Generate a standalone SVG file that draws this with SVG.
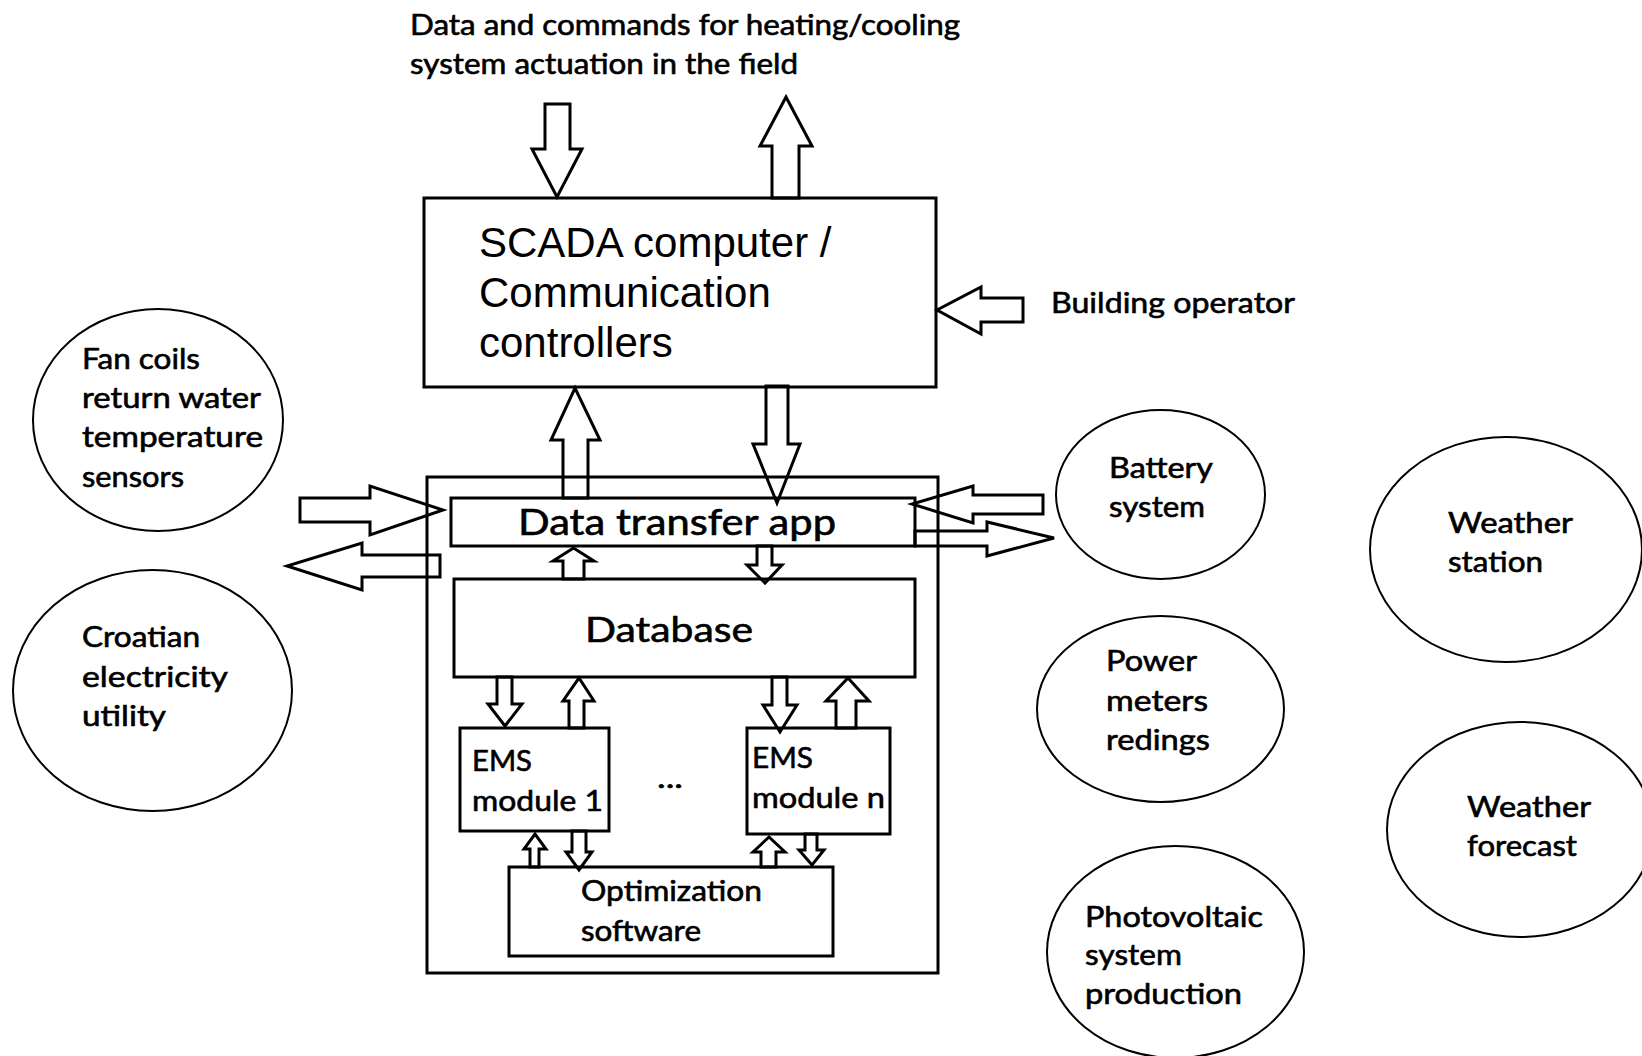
<svg xmlns="http://www.w3.org/2000/svg" width="1642" height="1056" viewBox="0 0 1642 1056">
<style>
.box{fill:none;stroke:#000;stroke-width:3}
.ell{fill:none;stroke:#000;stroke-width:2}
.arr{fill:none;stroke:#000;stroke-width:3;stroke-linejoin:miter}
.t{font-family:Lato,"Open Sans","Liberation Sans",sans-serif;font-size:28px;fill:#000;stroke:#000;stroke-width:0.6}
.big{font-size:36px}
.sc{font-family:"Liberation Sans",Arial,sans-serif;font-size:42px;fill:#000}
</style>
<rect x="0" y="0" width="1642" height="1056" fill="#fff"/>

<g id="label-top">
<text class="t" x="410" y="35" textLength="550" lengthAdjust="spacingAndGlyphs">Data and commands for heating/cooling</text>
<text class="t" x="410" y="74" textLength="388" lengthAdjust="spacingAndGlyphs">system actuation in the field</text>
</g>

<g id="label-operator">
<text class="t" x="1051" y="313" textLength="244" lengthAdjust="spacingAndGlyphs">Building operator</text>
</g>

<g id="scada">
<rect class="box" x="424" y="198" width="512" height="189"/>
<text class="sc" x="479" y="257">SCADA computer /</text>
<text class="sc" x="479" y="307">Communication</text>
<text class="sc" x="479" y="357">controllers</text>
</g>

<g id="frame">
<rect class="box" x="427" y="477" width="511" height="496"/>
</g>

<g id="data-transfer-app">
<rect class="box" x="451" y="498" width="464" height="48"/>
<text class="t big" x="518" y="535" textLength="318" lengthAdjust="spacingAndGlyphs">Data transfer app</text>
</g>

<g id="database">
<rect class="box" x="454" y="579" width="461" height="98"/>
<text class="t" style="font-size:35px" x="585" y="642" textLength="168" lengthAdjust="spacingAndGlyphs">Database</text>
</g>

<g id="ems1">
<rect class="box" x="460" y="728" width="149" height="103"/>
<text class="t" x="472" y="771" textLength="60" lengthAdjust="spacingAndGlyphs">EMS</text>
<text class="t" x="472" y="811" textLength="131" lengthAdjust="spacingAndGlyphs">module 1</text>
</g>

<g id="ellipsis">
<text class="t" x="657" y="788" textLength="26" lengthAdjust="spacingAndGlyphs">...</text>
</g>

<g id="emsn">
<rect class="box" x="747" y="728" width="143" height="106"/>
<text class="t" x="752" y="768" textLength="61" lengthAdjust="spacingAndGlyphs">EMS</text>
<text class="t" x="752" y="808" textLength="133" lengthAdjust="spacingAndGlyphs">module n</text>
</g>

<g id="optimization">
<rect class="box" x="509" y="867" width="324" height="89"/>
<text class="t" x="581" y="901" textLength="181" lengthAdjust="spacingAndGlyphs">Optimization</text>
<text class="t" x="581" y="941" textLength="120" lengthAdjust="spacingAndGlyphs">software</text>
</g>

<g id="fan-coils">
<ellipse class="ell" cx="158" cy="420" rx="125" ry="111"/>
<text class="t" x="82" y="369" textLength="118" lengthAdjust="spacingAndGlyphs">Fan coils</text>
<text class="t" x="82" y="408" textLength="179" lengthAdjust="spacingAndGlyphs">return water</text>
<text class="t" x="82" y="447" textLength="181" lengthAdjust="spacingAndGlyphs">temperature</text>
<text class="t" x="82" y="487" textLength="102" lengthAdjust="spacingAndGlyphs">sensors</text>
</g>

<g id="croatian-utility">
<ellipse class="ell" cx="152.5" cy="690.5" rx="139.5" ry="120.5"/>
<text class="t" x="82" y="647" textLength="118" lengthAdjust="spacingAndGlyphs">Croatian</text>
<text class="t" x="82" y="687" textLength="146" lengthAdjust="spacingAndGlyphs">electricity</text>
<text class="t" x="82" y="726" textLength="84" lengthAdjust="spacingAndGlyphs">utility</text>
</g>

<g id="battery">
<ellipse class="ell" cx="1160.5" cy="494.5" rx="104.5" ry="84.5"/>
<text class="t" x="1109" y="478" textLength="104" lengthAdjust="spacingAndGlyphs">Battery</text>
<text class="t" x="1109" y="517" textLength="96" lengthAdjust="spacingAndGlyphs">system</text>
</g>

<g id="weather-station">
<ellipse class="ell" cx="1506" cy="549.5" rx="136" ry="112.5"/>
<text class="t" x="1448" y="533" textLength="125" lengthAdjust="spacingAndGlyphs">Weather</text>
<text class="t" x="1448" y="572" textLength="95" lengthAdjust="spacingAndGlyphs">station</text>
</g>

<g id="power-meters">
<ellipse class="ell" cx="1160.5" cy="709" rx="123.5" ry="93"/>
<text class="t" x="1106" y="671" textLength="91" lengthAdjust="spacingAndGlyphs">Power</text>
<text class="t" x="1106" y="711" textLength="102" lengthAdjust="spacingAndGlyphs">meters</text>
<text class="t" x="1106" y="750" textLength="104" lengthAdjust="spacingAndGlyphs">redings</text>
</g>

<g id="photovoltaic">
<ellipse class="ell" cx="1175.5" cy="952" rx="128.5" ry="106"/>
<text class="t" x="1085" y="927" textLength="178" lengthAdjust="spacingAndGlyphs">Photovoltaic</text>
<text class="t" x="1085" y="965" textLength="97" lengthAdjust="spacingAndGlyphs">system</text>
<text class="t" x="1085" y="1004" textLength="157" lengthAdjust="spacingAndGlyphs">production</text>
</g>

<g id="weather-forecast">
<ellipse class="ell" cx="1520" cy="829.5" rx="133" ry="107.5"/>
<text class="t" x="1467" y="817" textLength="124" lengthAdjust="spacingAndGlyphs">Weather</text>
<text class="t" x="1467" y="856" textLength="110" lengthAdjust="spacingAndGlyphs">forecast</text>
</g>

<g id="connectors">
<polygon class="arr" points="545,104 570,104 570,149 582,149 557,197 532,149 545,149"/>
<polygon class="arr" points="772,198 772,146 760,146 786,97 812,146 799,146 799,198"/>
<polygon class="arr" points="1023,298 981,298 981,287 937,310 981,334 981,322 1023,322"/>
<polygon class="arr" points="563,498 563,440 551,440 575,388 600,440 588,440 588,498"/>
<polygon class="arr" points="766,386 788,386 788,444 800,444 777,503 753,444 766,444"/>
<polygon class="arr" points="563,579 563,561 553,561 573.5,548 594,561 584,561 584,579"/>
<polygon class="arr" points="757,546 772,546 772,565 782,565 765,583 747,565 757,565"/>
<polygon class="arr" points="497,677 512,677 512,704 522,704 505,726 488,704 497,704"/>
<polygon class="arr" points="569,728 569,701 563,701 579,678 594,701 584,701 584,728"/>
<polygon class="arr" points="772,677 787,677 787,705 797,705 780,732 763,705 772,705"/>
<polygon class="arr" points="836,728 836,701 826,701 848,678 869,701 856,701 856,728"/>
<polygon class="arr" points="530,867 530,849 524,849 535,834 546,849 539,849 539,867"/>
<polygon class="arr" points="572,831 586,831 586,852 592,852 579,870 566,852 572,852"/>
<polygon class="arr" points="761,867 761,852 753,852 769,837 785,852 776,852 776,867"/>
<polygon class="arr" points="805,834 817,834 817,850 824,850 812,865 799,850 805,850"/>
<polygon class="arr" points="300,498 370,498 370,486 443,510 370,535 370,522 300,522"/>
<polygon class="arr" points="440,555 362,555 362,543 287,566 362,590 362,577 440,577"/>
<polygon class="arr" points="1043,495 973,495 973,486 912,504 973,523 973,514 1043,514"/>
<polygon class="arr" points="915,531 987,531 987,522 1054,538 987,556 987,546 915,546"/>
</g>
</svg>
